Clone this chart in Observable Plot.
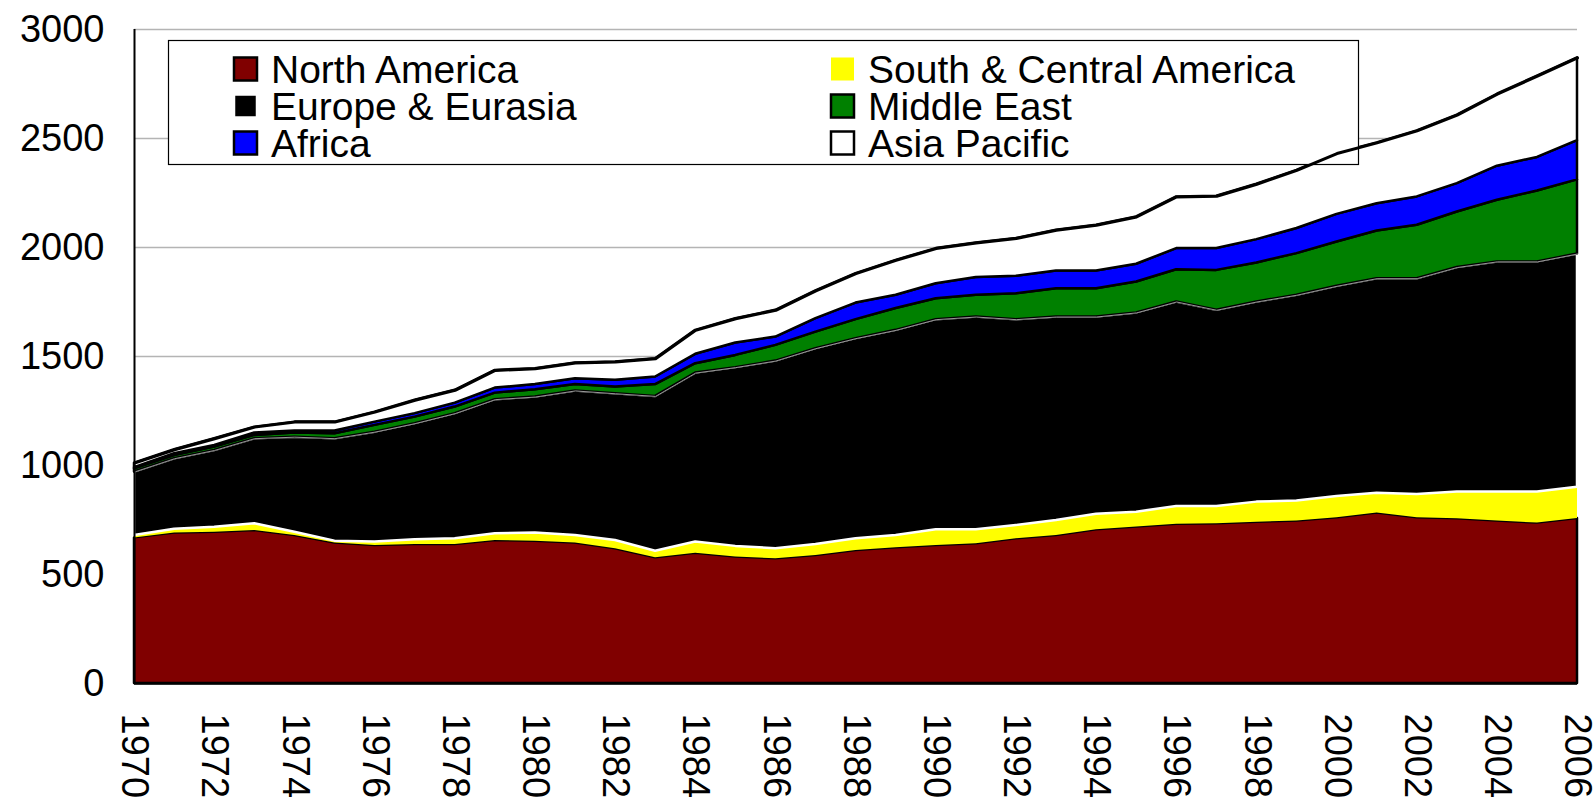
<!DOCTYPE html>
<html>
<head>
<meta charset="utf-8">
<script src="https://cdn.jsdelivr.net/npm/d3@7"></script>
<script src="https://cdn.jsdelivr.net/npm/@observablehq/plot@0.6"></script>
<style>
  html, body { margin: 0; padding: 0; background: #ffffff; }
  #chart { position: relative; width: 1593px; height: 802px; }
  #chart svg { overflow: visible; }
</style>
</head>
<body>
<div id="chart"></div>
<script>
// ---------- DATA ----------
const years = [1970,1971,1972,1973,1974,1975,1976,1977,1978,1979,1980,1981,1982,1983,1984,1985,1986,1987,1988,1989,1990,1991,1992,1993,1994,1995,1996,1997,1998,1999,2000,2001,2002,2003,2004,2005,2006];

const northAmerica       = [668,690,694,702,679,644,633,638,638,656,653,644,618,577,598,580,572,587,610,623,633,641,664,679,705,718,730,733,740,745,760,782,760,756,745,736,757];
const southCentralAmerica= [11,18,23,31,15,9,16,21,26,31,37,35,38,30,51,49,46,51,54,56,72,64,61,69,71,68,82,79,92,92,98,91,107,122,133,142,143];
const europeEurasia      = [291,323,352,390,436,470,504,533,574,615,624,663,673,710,775,820,861,898,918,941,964,976,944,933,905,914,938,900,918,944,964,984,990,1030,1056,1056,1070];
const middleEast         = [15,15,16,15,19,23,31,30,30,30,34,30,31,54,43,56,72,76,87,100,96,100,119,130,130,142,148,183,179,191,203,219,245,255,283,325,340];
const africa             = [5,8,7,11,9,12,15,16,18,23,24,26,31,35,43,57,38,62,76,61,69,81,80,81,81,81,97,100,107,115,127,125,130,130,156,154,180];
const asiaPacific        = [21,18,31,27,41,41,46,61,59,81,72,72,84,84,110,111,123,127,135,160,161,159,173,187,210,217,237,240,254,267,279,279,303,314,330,373,380];

const seriesNames  = ["North America","South & Central America","Europe & Eurasia","Middle East","Africa","Asia Pacific"];
const seriesValues = [northAmerica, southCentralAmerica, europeEurasia, middleEast, africa, asiaPacific];
const fillColors   = ["#800000","#ffff00","#000000","#008000","#0000ff","#ffffff"];
const strokeColors = ["#000000","none","#ffffff","#000000","#000000","#000000"];

const yTicks = [0,500,1000,1500,2000,2500,3000];
const xTicks = [1970,1972,1974,1976,1978,1980,1982,1984,1986,1988,1990,1992,1994,1996,1998,2000,2002,2004,2006];

// legend layout: [column, row]
const legendColumns = [0,1,0,1,0,1];
const legendRows    = [0,0,1,1,2,2];

// ---------- TABLE ----------
const rows = [];
seriesNames.forEach((s, i) => {
  years.forEach((yr, j) => {
    rows.push({year: yr, series: s, value: seriesValues[i][j], fill: fillColors[i], stroke: strokeColors[i]});
  });
});

const FONT = "'Liberation Sans', Arial, Helvetica, sans-serif";

const plot = Plot.plot({
  width: 1593,
  height: 802,
  marginTop: 29,
  marginBottom: 119,
  marginLeft: 134,
  marginRight: 16,
  style: {fontSize: "38px", fontFamily: FONT, background: "#ffffff", color: "#000000", overflow: "visible"},
  color: {type: "identity"},
  x: {domain: [1970, 2006], ticks: xTicks, tickFormat: "d", tickRotate: 90, tickSize: 0, tickPadding: 30, label: null},
  y: {domain: [0, 3000], ticks: yTicks, tickFormat: "d", tickSize: 0, tickPadding: 30, label: null},
  marks: [
    Plot.ruleY(yTicks, {stroke: "#b4b4b4", strokeWidth: 1.5}),
    Plot.areaY(rows, Plot.stackY({
      x: "year", y: "value", z: "series", order: seriesNames,
      fill: "fill", stroke: "stroke", strokeWidth: 2.5, strokeLinejoin: "round"
    })),
    Plot.lineY(rows, Plot.stackY2({
      x: "year", y: "value", z: "series", order: seriesNames,
      stroke: d => d.series === "Europe & Eurasia" ? "#9a9a9a" : "none", strokeWidth: 1
    })),
    Plot.lineY(rows, Plot.stackY2({
      x: "year", y: "value", z: "series", order: seriesNames,
      stroke: d => d.series === "Asia Pacific" ? "#000000" : "none", strokeWidth: 3
    })),
    Plot.ruleX([1970], {stroke: "#000000", strokeWidth: 2}),
    Plot.ruleY([0], {stroke: "#000000", strokeWidth: 2.5})
  ]
});

document.getElementById("chart").appendChild(plot);

// ---------- LEGEND (inside the plot area, under the lines, over the grid) ----------
const firstLine = plot.querySelector('g[aria-label="line"]');
const lg = document.createElementNS("http://www.w3.org/2000/svg", "g");
plot.insertBefore(lg, firstLine);
const legend = d3.select(lg).attr("text-anchor", "start");

legend.append("rect")
  .attr("x", 168.5).attr("y", 40.5)
  .attr("width", 1190).attr("height", 124)
  .attr("fill", "#ffffff").attr("stroke", "#000000").attr("stroke-width", 1.2);

const colSwatchX = [234, 831];
const colTextX = [271, 868];
const rowCenterY = [69, 106, 143];

seriesNames.forEach((name, i) => {
  const c = legendColumns[i], r = legendRows[i];
  const cy = rowCenterY[r];
  legend.append("rect")
    .attr("x", colSwatchX[c]).attr("y", cy - 11.5)
    .attr("width", 23).attr("height", 23)
    .attr("fill", fillColors[i])
    .attr("stroke", strokeColors[i])
    .attr("stroke-width", 2.5);
  legend.append("text")
    .attr("x", colTextX[c]).attr("y", cy + 14)
    .attr("text-anchor", "start")
    .attr("font-family", FONT)
    .attr("font-size", 39)
    .attr("fill", "#000000")
    .text(name);
});
</script>
</body>
</html>
